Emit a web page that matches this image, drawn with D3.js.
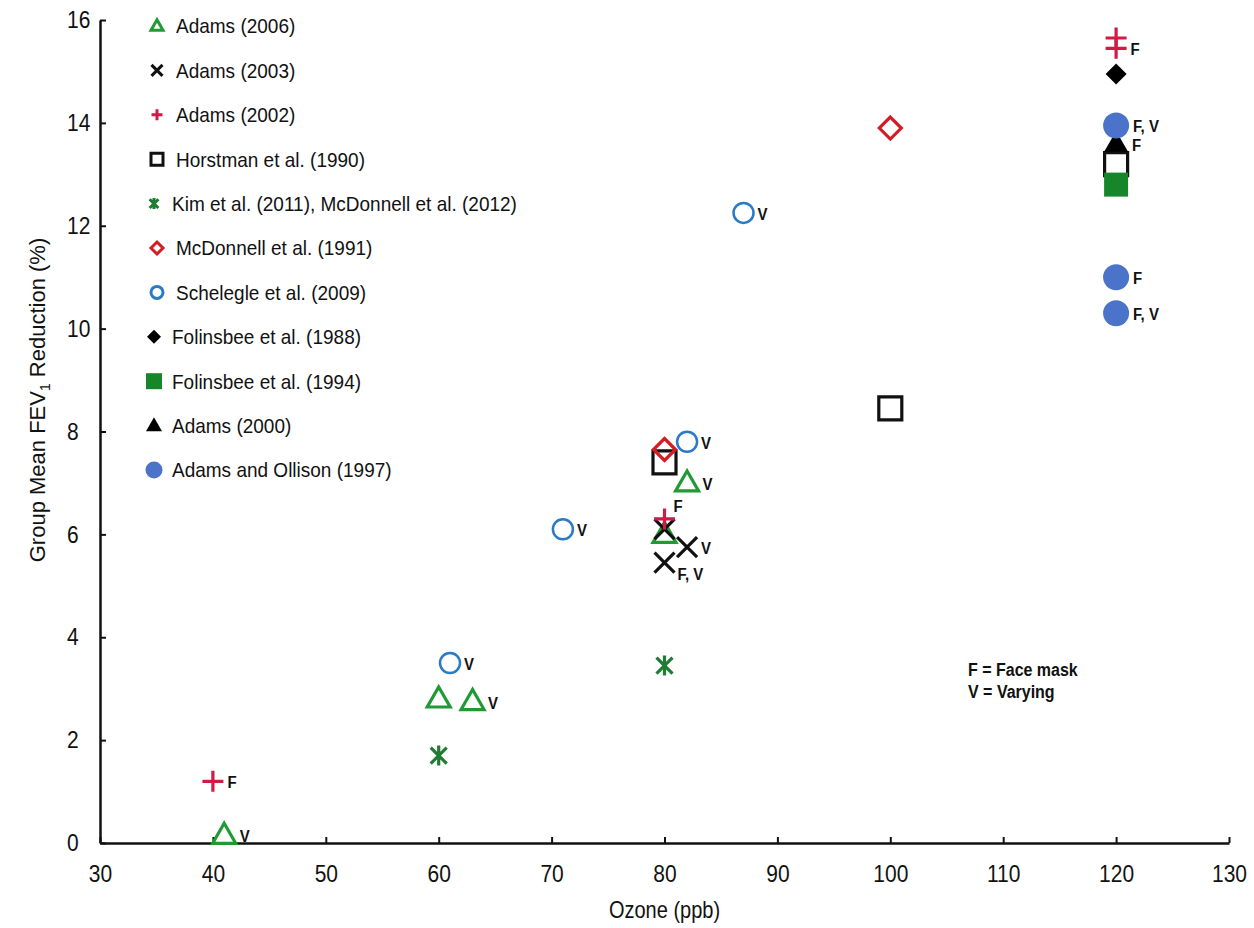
<!DOCTYPE html>
<html>
<head>
<meta charset="utf-8">
<script src="https://cdn.jsdelivr.net/npm/d3@7"></script>
<style>
  body { margin: 0; background: #fff; }
  svg { display: block; }
  text { font-family: "Liberation Sans", Arial, sans-serif; fill: #111; }
</style>
</head>
<body>
<svg id="chart" width="1254" height="928"></svg>
<script>
// study names, in legend order
const studies = [
  "Adams (2006)",
  "Adams (2003)",
  "Adams (2002)",
  "Horstman et al. (1990)",
  "Kim et al. (2011), McDonnell et al. (2012)",
  "McDonnell et al. (1991)",
  "Schelegle et al. (2009)",
  "Folinsbee et al. (1988)",
  "Folinsbee et al. (1994)",
  "Adams (2000)",
  "Adams and Ollison (1997)"
];

// [ozone ppb, FEV1 reduction %, note, note placement]
const adams2006 = [[41, 0.15, "V", "r"], [60, 2.8, "", ""], [63, 2.75, "V", "r"], [80, 6.0, "", ""], [82, 7.0, "V", "r"]];
const adams2003 = [[80, 6.1, "", ""], [82, 5.75, "V", "r"], [80, 5.45, "F, V", "dr"]];
const adams2002 = [[40, 1.2, "F", "r"], [80, 6.3, "F", "ur"], [120, 15.65, "", ""], [120, 15.45, "F", "r"]];
const horstman = [[80, 7.4, "", ""], [100, 8.45, "", ""], [120, 13.2, "", ""]];
const kimMcdonnell = [[60, 1.7, "", ""], [80, 3.45, "", ""]];
const mcdonnell1991 = [[80, 7.65, "", ""], [100, 13.9, "", ""]];
const schelegle = [[61, 3.5, "V", "r"], [71, 6.1, "V", "r"], [82, 7.8, "V", "r"], [87, 12.25, "V", "r"]];
const folinsbee1988 = [[120, 14.95, "", ""]];
const folinsbee1994 = [[120, 12.8, "", ""]];
const adams2000 = [[120, 13.6, "F", "r"]];
const adamsOllison = [[120, 13.95, "F, V", "r"], [120, 11.0, "F", "r"], [120, 10.3, "F, V", "r"]];

const xTicks = [30, 40, 50, 60, 70, 80, 90, 100, 110, 120, 130];
const yTicks = [0, 2, 4, 6, 8, 10, 12, 14, 16];
const keyLines = ["F = Face mask", "V = Varying"];

// marker look per study
const looks = [
  { shape: "triangle", color: "#1f9a35", fill: false, size: 23, lsize: 12 },
  { shape: "x", color: "#111", fill: false, size: 20, lsize: 11 },
  { shape: "plus", color: "#d11a44", fill: false, size: 21, lsize: 11 },
  { shape: "square", color: "#111", fill: false, size: 23, lsize: 12 },
  { shape: "asterisk", color: "#1e7d32", fill: false, size: 20, lsize: 11 },
  { shape: "diamond", color: "#d41c24", fill: false, size: 22, lsize: 12 },
  { shape: "circle", color: "#2a7ac6", fill: false, size: 20, lsize: 12 },
  { shape: "diamond", color: "#000", fill: true, size: 21, lsize: 14 },
  { shape: "square", color: "#17862a", fill: true, size: 24, lsize: 16 },
  { shape: "triangle", color: "#000", fill: true, size: 24, lsize: 16 },
  { shape: "circle", color: "#4a73c9", fill: true, size: 26, lsize: 17 }
];
const seriesData = [adams2006, adams2003, adams2002, horstman, kimMcdonnell, mcdonnell1991,
  schelegle, folinsbee1988, folinsbee1994, adams2000, adamsOllison];

const svg = d3.select("svg#chart");
const margin = { left: 100, right: 25, top: 20, bottom: 85 };
const width = 1254, height = 928;

const x = d3.scaleLinear().domain([30, 130]).range([margin.left, width - margin.right]);
const y = d3.scaleLinear().domain([0, 16]).range([height - margin.bottom, margin.top]);

function shapePath(shape, s) {
  const h = s / 2;
  if (shape == "triangle") {
    const th = s * 0.87;
    return `M0,${-th * 0.6}L${h},${th * 0.4}L${-h},${th * 0.4}Z`;
  }
  if (shape == "x") return `M${-h},${-h}L${h},${h}M${h},${-h}L${-h},${h}`;
  if (shape == "plus") return `M${-h},0H${h}M0,${-h}V${h}`;
  if (shape == "square") return `M${-h},${-h}H${h}V${h}H${-h}Z`;
  if (shape == "asterisk") {
    const a = h * 0.8;
    return `M${-a},${-a}L${a},${a}M${a},${-a}L${-a},${a}M0,${-h}V${h}`;
  }
  if (shape == "diamond") return `M0,${-h}L${h},0L0,${h}L${-h},0Z`;
  if (shape == "circle") return d3.arc()({ innerRadius: 0, outerRadius: h, startAngle: 0, endAngle: 2 * Math.PI });
  return "";
}

function drawMarker(g, look, s, sw) {
  g.append("path")
    .attr("d", shapePath(look.shape, s))
    .attr("fill", look.fill ? look.color : "none")
    .attr("stroke", look.fill ? "none" : look.color)
    .attr("stroke-width", sw)
    .attr("stroke-linejoin", "miter");
}

// the source text is a little taller than it is wide
function stretch(sel, k) {
  sel.each(function () {
    const t = d3.select(this);
    const x0 = +t.attr("x") || 0, y0 = +t.attr("y") || 0;
    t.attr("x", 0).attr("y", 0).attr("transform", `translate(${x0},${y0}) scale(1,${k})`);
  });
}

// axes
let gx = svg.append("g").attr("transform", `translate(0,${y(0)})`);
gx.call(d3.axisBottom(x).tickValues(xTicks).tickSizeInner(-6).tickSizeOuter(0).tickPadding(22));
let gy = svg.append("g").attr("transform", `translate(${x(30)},0)`);
gy.call(d3.axisLeft(y).tickValues(yTicks).tickSizeInner(-6).tickSizeOuter(0).tickPadding(33));

svg.selectAll(".domain").attr("stroke", "#111").attr("stroke-width", 2.5);
svg.selectAll(".tick line").attr("stroke", "#111").attr("stroke-width", 2);
svg.selectAll(".tick text").attr("font-size", 21).attr("fill", "#222")
  .attr("font-family", "'Liberation Sans', Arial, sans-serif");
gy.selectAll(".tick text").attr("text-anchor", "start");
stretch(gx.selectAll(".tick text"), 1.15);
stretch(gy.selectAll(".tick text"), 1.15);

let xlab = svg.append("text")
  .attr("x", (x(30) + x(130)) / 2).attr("y", 918)
  .attr("text-anchor", "middle").attr("font-size", 20)
  .text("Ozone (ppb)");
stretch(xlab, 1.17);

let ylab = svg.append("text")
  .attr("transform", `translate(45,400) rotate(-90)`)
  .attr("text-anchor", "middle").attr("font-size", 22);
ylab.append("tspan").text("Group Mean FEV");
ylab.append("tspan").attr("font-size", 14).attr("dy", 5).text("1");
ylab.append("tspan").attr("dy", -5).text(" Reduction (%)");

// legend
const legend = svg.append("g");
studies.forEach((name, i) => {
  const row = legend.append("g").attr("transform", `translate(0,${26 + i * 44.4})`);
  const tight = looks[i].fill || looks[i].shape == "asterisk";
  const mg = row.append("g").attr("transform", `translate(${tight ? 154 : 157},0)`);
  drawMarker(mg, looks[i], looks[i].lsize, 3);
  let t = row.append("text")
    .attr("x", tight ? 172 : 176).attr("y", 0)
    .attr("dy", "0.35em").attr("font-size", 19)
    .text(name);
  stretch(t, 1.1);
});

// data points
const noteOffset = { r: [14, 1], ur: [9, -13], dr: [13, 11] };
const plot = svg.append("g");
seriesData.forEach((pts, i) => {
  const look = looks[i];
  const sg = plot.append("g");
  pts.forEach(p => {
    const g = sg.append("g").attr("transform", `translate(${x(p[0])},${y(p[1])})`);
    drawMarker(g, look, look.size, look.shape == "circle" ? 2.5 : 3.2);
  });
});
// notes on top
seriesData.forEach((pts, i) => {
  const look = looks[i];
  pts.filter(p => p[2]).forEach(p => {
    const off = noteOffset[p[3]];
    const dx = p[3] == "r" ? look.size / 2 + 4 : off[0];
    let t = plot.append("text")
      .attr("x", x(p[0]) + dx).attr("y", y(p[1]) + off[1])
      .attr("dy", "0.35em").attr("font-size", 15).attr("font-weight", "bold")
      .text(p[2]);
    stretch(t, 1.15);
  });
});

// key
const key = svg.append("g").attr("transform", "translate(968,669)");
keyLines.forEach((t, i) => {
  let k = key.append("text").attr("x", 0).attr("y", i * 22).attr("dy", "0.35em")
    .attr("font-size", 16).attr("font-weight", "bold").text(t);
  stretch(k, 1.18);
});
</script>
</body>
</html>
